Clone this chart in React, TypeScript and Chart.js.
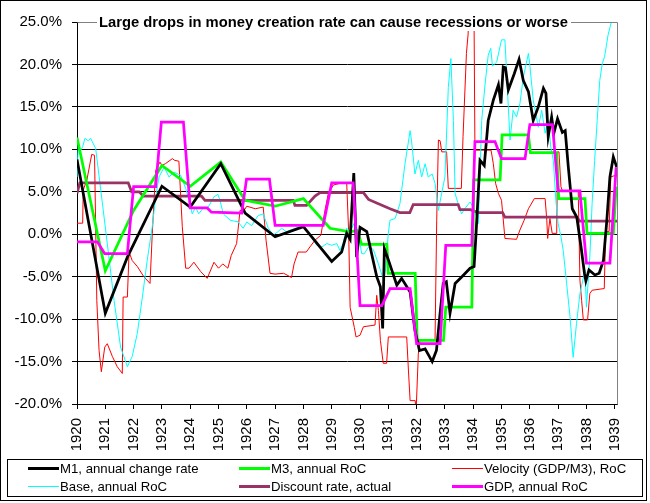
import React, { useEffect, useRef } from "react";
import { Chart, registerables } from "chart.js";

Chart.register(...registerables);

type Pt = [number, number];

const chartTitle = "Large drops in money creation rate can cause recessions or worse";

const seriesLabels = [
  "M1, annual change rate",
  "M3, annual RoC",
  "Velocity (GDP/M3), RoC",
  "Base, annual RoC",
  "Discount rate, actual",
  "GDP, annual RoC",
];

const yTickValues = [-20, -15, -10, -5, 0, 5, 10, 15, 20, 25];
const xTickYears = [1920, 1921, 1922, 1923, 1924, 1925, 1926, 1927, 1928, 1929, 1930, 1931, 1932, 1933, 1934, 1935, 1936, 1937, 1938, 1939];

// M1, annual change rate (%)
const m1: Pt[] = [
  [1920.0, 8.8], [1921.0, -9.3], [1921.78, -2.7], [1923.0, 5.65], [1924.0, 3.2], [1925.08, 8.3],
  [1925.94, 2.5], [1927.0, -0.3], [1928.0, 0.9], [1929.0, -3.2], [1929.35, -2.1], [1929.53, 0.1],
  [1929.65, -0.6], [1929.78, 7.2], [1929.88, -2.7], [1930.0, 0.8], [1930.24, 0.3], [1930.41, -2.3],
  [1930.59, -5.0], [1930.72, -6.2], [1930.8, -11.1], [1930.86, -1.7], [1931.0, -3.0], [1931.12, -4.2],
  [1931.3, -6.0], [1931.47, -5.2], [1931.77, -6.8], [1931.94, -11.3], [1932.1, -13.7], [1932.3, -13.5],
  [1932.55, -15.0], [1932.7, -13.7], [1932.83, -9.3], [1932.94, -5.8], [1933.05, -5.6], [1933.18, -9.3],
  [1933.36, -5.8], [1933.6, -5.0], [1933.89, -4.0], [1934.03, -3.8], [1934.1, 0.1], [1934.24, 8.7],
  [1934.39, 8.1], [1934.53, 13.4], [1934.71, 15.8], [1934.89, 17.6], [1934.98, 15.4], [1935.06, 19.7],
  [1935.14, 19.6], [1935.24, 17.0], [1935.45, 18.9], [1935.62, 20.6], [1935.77, 18.1], [1935.95, 16.8],
  [1936.12, 13.4], [1936.3, 15.0], [1936.48, 17.2], [1936.57, 16.6], [1936.65, 11.5], [1936.77, 13.8],
  [1936.85, 11.9], [1936.98, 13.6], [1937.15, 12.0], [1937.25, 12.2], [1937.36, 7.9], [1937.5, 3.0],
  [1937.66, 2.0], [1937.81, -1.5], [1937.93, -4.6], [1937.98, -5.5], [1938.09, -4.2], [1938.3, -4.8],
  [1938.45, -4.6], [1938.6, -3.1], [1938.72, 1.6], [1938.83, 6.75], [1938.95, 9.1], [1939.07, 7.9],
];

// M3, annual RoC (%)
const m3: Pt[] = [
  [1920.0, 11.4], [1921.0, -4.3], [1922.0, 2.8], [1923.0, 8.1], [1924.0, 5.65], [1925.08, 8.5],
  [1925.94, 4.0], [1927.0, 3.3], [1928.0, 4.2], [1928.94, 0.7], [1929.6, 0.3], [1929.9, 0.4],
  [1930.06, -1.2], [1930.95, -1.2], [1931.0, -4.6], [1931.95, -4.6], [1932.02, -12.5], [1932.95, -12.5],
  [1933.03, -8.6], [1933.95, -8.6], [1934.02, 6.4], [1934.95, 6.4], [1935.02, 11.7], [1935.95, 11.7],
  [1936.02, 9.6], [1936.95, 9.6], [1937.02, 4.2], [1937.95, 4.2], [1938.02, 0.1], [1938.95, 0.1],
  [1939.05, 5.6],
];

// Velocity (GDP/M3), RoC (%)
const velocity: Pt[] = [
  [1920.0, 1.3], [1920.2, 1.3], [1920.22, 5.2], [1920.35, 6.4], [1920.52, 9.4], [1920.62, 9.3],
  [1920.7, -7.8], [1920.78, -13.7], [1920.86, -16.2], [1920.98, -13.3], [1921.07, -12.9], [1921.25, -14.4],
  [1921.42, -15.6], [1921.6, -16.4], [1921.63, -7.4], [1921.78, -7.4], [1921.84, -2.1], [1921.95, -3.1],
  [1922.13, -3.8], [1922.36, -5.0], [1922.58, -5.8], [1922.66, 0.1], [1922.78, 7.5], [1922.93, 8.5],
  [1923.0, 8.1], [1923.12, 8.3], [1923.37, 8.9], [1923.45, 8.7], [1923.6, 8.6], [1923.72, 0.9],
  [1923.84, -4.0], [1923.96, -4.0], [1924.13, -3.3], [1924.37, -4.4], [1924.6, -5.2], [1924.84, -3.3],
  [1925.0, -4.0], [1925.15, -3.5], [1925.33, -4.0], [1925.45, -2.5], [1925.64, -1.1], [1925.76, 2.8],
  [1925.9, 2.8], [1926.0, 3.3], [1926.3, 3.0], [1926.58, 3.2], [1926.68, -0.7], [1926.82, -4.6],
  [1927.0, -4.7], [1927.3, -4.6], [1927.58, -5.1], [1927.67, -3.5], [1927.81, -2.1], [1928.1, -2.1],
  [1928.23, -1.5], [1928.41, -0.7], [1928.62, -0.1], [1928.76, 2.8], [1928.88, 4.8], [1929.06, 5.8],
  [1929.3, 6.0], [1929.53, 6.0], [1929.6, 0.1], [1929.65, -8.6], [1929.8, -11.0], [1929.86, -12.1],
  [1930.0, -11.9], [1930.12, -10.9], [1930.53, -10.7], [1930.59, -7.2], [1930.65, -9.0], [1930.72, -12.5],
  [1930.82, -15.2], [1930.94, -15.2], [1931.0, -12.1], [1931.65, -12.1], [1931.71, -16.0], [1931.77, -19.6],
  [1931.95, -19.6], [1931.98, -21.0], [1932.06, -14.1], [1932.12, -12.5], [1932.65, -12.5], [1932.71, 1.65],
  [1932.77, 11.1], [1932.83, 11.0], [1932.89, 9.7], [1933.06, 9.7], [1933.12, 5.4], [1933.58, 5.4],
  [1933.64, 11.5], [1933.76, 21.3], [1933.82, 23.6], [1933.88, 30.0], [1934.02, 30.0], [1934.06, 9.9],
  [1934.63, 9.9], [1934.71, 8.3], [1934.79, 6.0], [1934.89, 4.8], [1935.0, 4.0], [1935.12, -0.5],
  [1935.53, -0.6], [1935.65, 0.5], [1935.8, 1.65], [1935.95, 3.0], [1936.16, 4.2], [1936.54, 4.2],
  [1936.6, 1.65], [1936.63, -0.5], [1936.71, 1.85], [1936.79, 0.1], [1936.95, 0.1], [1936.98, 9.7],
  [1937.03, 9.7], [1937.1, 5.6], [1937.15, 5.1], [1937.71, 5.1], [1937.77, -5.4], [1937.83, -7.8],
  [1937.89, -10.1], [1938.04, -10.1], [1938.12, -7.0], [1938.2, -6.6], [1938.63, -6.4], [1938.68, 0.3],
  [1938.8, 0.3], [1938.86, 6.75], [1939.08, 7.0],
];

// Base, annual RoC (%)
const base: Pt[] = [
  [1920.0, 6.75], [1920.05, 10.7], [1920.1, 9.7], [1920.2, 10.3], [1920.28, 11.3], [1920.4, 11.0],
  [1920.48, 11.3], [1920.66, 10.1], [1920.84, 5.2], [1921.07, -1.1], [1921.31, -7.8], [1921.54, -13.3],
  [1921.78, -15.6], [1921.95, -14.4], [1922.13, -11.7], [1922.31, -7.4], [1922.48, -3.1], [1922.66, 0.9],
  [1922.78, 4.4], [1922.9, 6.75], [1923.08, 7.9], [1923.25, 6.75], [1923.43, 7.3], [1923.66, 6.95],
  [1923.84, 5.4], [1923.96, 4.0], [1924.07, 2.4], [1924.19, 3.2], [1924.3, 2.4], [1924.49, 3.2],
  [1924.6, 3.0], [1924.84, 4.4], [1924.98, 4.7], [1925.05, 4.0], [1925.17, 2.4], [1925.41, 1.65],
  [1925.69, 1.45], [1925.87, 0.7], [1926.0, 1.45], [1926.17, 1.0], [1926.4, 2.2], [1926.58, 2.4],
  [1926.76, 0.7], [1926.94, -0.1], [1927.1, 0.3], [1927.23, 0.7], [1927.4, 0.3], [1927.7, 0.7],
  [1928.0, 0.9], [1928.29, -0.3], [1928.47, -1.3], [1928.65, -1.5], [1928.83, -1.1], [1929.0, -1.3],
  [1929.18, -1.1], [1929.29, -1.9], [1929.4, -1.1], [1929.53, 0.7], [1929.65, 0.3], [1929.82, 1.5],
  [1929.94, 0.1], [1930.06, -2.3], [1930.15, -2.3], [1930.3, -1.5], [1930.47, -1.8], [1930.65, -3.5],
  [1930.83, -5.4], [1930.9, -4.2], [1931.0, 0.1], [1931.06, 1.65], [1931.24, 1.85], [1931.41, 3.6],
  [1931.59, 8.3], [1931.77, 12.2], [1931.82, 11.0], [1931.94, 7.1], [1932.06, 8.7], [1932.18, 6.75],
  [1932.3, 8.3], [1932.41, 6.75], [1932.55, 7.1], [1932.65, 6.0], [1932.77, 2.8], [1932.86, 4.4],
  [1933.0, 6.75], [1933.12, 17.3], [1933.21, 20.7], [1933.3, 13.4], [1933.36, 4.8], [1933.5, 3.2],
  [1933.59, 2.4], [1933.7, 3.0], [1933.89, 3.8], [1934.06, 2.8], [1934.18, 1.25], [1934.3, 13.4],
  [1934.42, 17.7], [1934.53, 21.1], [1934.62, 21.9], [1934.68, 19.8], [1934.83, 20.3], [1935.0, 22.9],
  [1935.12, 22.9], [1935.24, 15.0], [1935.3, 11.1], [1935.41, 14.6], [1935.53, 13.8], [1935.65, 15.4],
  [1935.77, 18.5], [1935.95, 21.3], [1936.0, 19.9], [1936.12, 15.8], [1936.3, 12.6], [1936.42, 14.6],
  [1936.54, 11.9], [1936.65, 13.4], [1936.74, 10.3], [1936.83, 8.7], [1936.92, 4.0], [1937.0, 1.25],
  [1937.1, -0.3], [1937.18, -1.9], [1937.3, -5.8], [1937.42, -9.7], [1937.53, -14.5], [1937.65, -10.5],
  [1937.77, -7.0], [1937.95, -4.2], [1938.0, -8.6], [1938.12, -2.7], [1938.2, 3.6], [1938.29, 8.7],
  [1938.38, 13.4], [1938.47, 18.1], [1938.56, 20.1], [1938.64, 20.9], [1938.7, 22.1], [1938.76, 23.4],
  [1938.88, 25.0], [1938.95, 26.0], [1939.08, 27.0],
];

// Discount rate, actual (%)
const discount: Pt[] = [
  [1920.0, 4.8], [1920.1, 6.05], [1921.81, 6.05], [1921.93, 5.0], [1922.2, 5.0], [1922.34, 4.5],
  [1924.4, 4.5], [1924.52, 4.0], [1927.64, 4.0], [1927.7, 3.4], [1928.11, 3.4], [1928.41, 4.5],
  [1928.59, 4.9], [1930.12, 4.9], [1930.3, 4.1], [1930.65, 3.6], [1931.06, 3.0], [1931.41, 2.55],
  [1931.76, 2.55], [1931.88, 3.5], [1933.47, 3.5], [1933.53, 2.9], [1933.9, 2.9], [1934.18, 2.55],
  [1935.04, 2.55], [1935.12, 2.0], [1937.65, 2.0], [1937.77, 1.55], [1939.08, 1.55],
];

// GDP, annual RoC (%)
const gdp: Pt[] = [
  [1920.0, -0.9], [1920.72, -0.9], [1920.98, -2.3], [1921.78, -2.3], [1922.0, 5.6], [1922.78, 5.6],
  [1922.98, 13.2], [1923.76, 13.2], [1924.0, 3.1], [1924.6, 3.1], [1924.75, 2.6], [1925.82, 2.5],
  [1925.99, 6.5], [1926.8, 6.5], [1927.0, 1.05], [1928.7, 1.05], [1929.0, 6.05], [1929.76, 6.05],
  [1930.0, -8.4], [1930.77, -8.4], [1931.06, -6.4], [1931.77, -6.4], [1932.0, -12.9], [1932.83, -12.9],
  [1933.03, -1.3], [1933.95, -1.3], [1934.06, 10.9], [1934.77, 10.9], [1935.0, 8.9], [1935.83, 8.9],
  [1936.0, 12.9], [1936.8, 12.9], [1937.0, 5.1], [1937.77, 5.1], [1938.0, -3.4], [1938.83, -3.4],
  [1939.05, 7.9],
];

const seriesData: Pt[][] = [m1, m3, velocity, base, discount, gdp];
const seriesColors = ["#000000", "#00FF00", "#FF0000", "#00FFFF", "#993366", "#FF00FF"];
const seriesWidths = [2.75, 2.75, 1, 1, 2.75, 2.75];
const seriesOrder = [1, 2, 5, 4, 3, 0];

const FONT = '"Liberation Sans", Arial, sans-serif';

export default function App() {
  const ref = useRef<HTMLCanvasElement | null>(null);

  useEffect(() => {
    document.body.style.margin = "0";
    const canvas = ref.current;
    if (!canvas) return;

    const decor = {
      id: "decor",
      beforeDraw(chart: any) {
        const ctx = chart.ctx;
        ctx.save();
        ctx.fillStyle = "#ffffff";
        ctx.fillRect(0, 0, chart.width, chart.height);
        ctx.restore();
      },
      afterDatasetsDraw(chart: any) {
        const ctx = chart.ctx;
        const a = chart.chartArea;
        ctx.save();
        // plot border (top/right grey)
        ctx.strokeStyle = "#808080";
        ctx.lineWidth = 1;
        ctx.beginPath();
        ctx.moveTo(Math.round(a.left) + 0.5, Math.round(a.top) + 0.5);
        ctx.lineTo(Math.round(a.right) + 0.5, Math.round(a.top) + 0.5);
        ctx.lineTo(Math.round(a.right) + 0.5, Math.round(a.bottom) + 0.5);
        ctx.stroke();

        // title with white box
        ctx.font = `bold 15px ${FONT}`;
        const w15 = ctx.measureText(chartTitle).width;
        const size = (15 * 469) / w15;
        ctx.font = `bold ${size}px ${FONT}`;
        ctx.fillStyle = "#ffffff";
        ctx.fillRect(97, 13, 474, 18);
        ctx.fillStyle = "#000000";
        ctx.textAlign = "center";
        ctx.textBaseline = "middle";
        ctx.fillText(chartTitle, 333.5, 22.5);

        // legend
        ctx.strokeStyle = "#000000";
        ctx.lineWidth = 1;
        ctx.strokeRect(7.5, 459.5, 635, 37);
        const colX = [28, 239, 452];
        const rowY = [468, 486];
        ctx.font = `13.2px ${FONT}`;
        ctx.textAlign = "left";
        ctx.textBaseline = "middle";
        seriesLabels.forEach((lab, i) => {
          const cx = colX[i % 3];
          const cy = rowY[Math.floor(i / 3)];
          ctx.strokeStyle = seriesColors[i];
          ctx.lineWidth = seriesWidths[i] > 1 ? 3 : 1;
          ctx.beginPath();
          ctx.moveTo(cx, cy + 0.5);
          ctx.lineTo(cx + 31, cy + 0.5);
          ctx.stroke();
          ctx.fillStyle = "#000000";
          ctx.fillText(lab, cx + 32, cy + 1);
        });

        // outer frame
        ctx.strokeStyle = "#000000";
        ctx.lineWidth = 1;
        ctx.strokeRect(0.5, 0.5, 646, 500);
        ctx.restore();
      },
    };

    const chart = new Chart(canvas, {
      type: "line",
      data: {
        datasets: seriesData.map((pts, i) => ({
          label: seriesLabels[i],
          data: pts.map(([x, y]) => ({ x, y })),
          borderColor: seriesColors[i],
          backgroundColor: seriesColors[i],
          borderWidth: seriesWidths[i],
          pointRadius: 0,
          tension: 0,
          fill: false,
          order: seriesOrder[i],
        })),
      },
      options: {
        responsive: false,
        animation: false,
        devicePixelRatio: 1,
        layout: { padding: { left: 0, top: 22, right: 33, bottom: 0 } },
        plugins: {
          legend: { display: false },
          title: { display: false },
          tooltip: { enabled: false },
        },
        scales: {
          x: {
            type: "linear",
            min: 1920,
            max: 1939.08,
            afterBuildTicks: (s: any) => {
              s.ticks = xTickYears.map((v) => ({ value: v }));
            },
            afterFit: (s: any) => {
              s.height = 99;
            },
            grid: {
              display: true,
              drawOnChartArea: false,
              drawTicks: true,
              tickLength: 5,
              color: "#000000",
              tickColor: "#000000",
            },
            border: { display: true, color: "#000000", width: 1 },
            ticks: {
              autoSkip: false,
              minRotation: 90,
              maxRotation: 90,
              padding: 9,
              color: "#000000",
              font: { family: FONT, size: 15 },
              callback: (v: any) => String(v),
            },
          },
          y: {
            type: "linear",
            min: -20,
            max: 25,
            afterBuildTicks: (s: any) => {
              s.ticks = yTickValues.map((v) => ({ value: v }));
            },
            afterFit: (s: any) => {
              s.width = 77;
            },
            grid: {
              display: true,
              drawTicks: true,
              tickLength: 5,
              lineWidth: 1,
              color: (c: any) => (c.tick && c.tick.value === 25 ? "#808080" : "#000000"),
              tickColor: "#000000",
            },
            border: { display: true, color: "#000000", width: 1 },
            ticks: {
              padding: 10,
              color: "#000000",
              font: { family: FONT, size: 15 },
              callback: (v: any) => Number(v).toFixed(1) + "%",
            },
          },
        },
      },
      plugins: [decor],
    } as any);

    return () => chart.destroy();
  }, []);

  return (
    <div style={{ width: 650, height: 503, background: "#ffffff" }}>
      <canvas ref={ref} width={650} height={503} style={{ display: "block" }} />
    </div>
  );
}
